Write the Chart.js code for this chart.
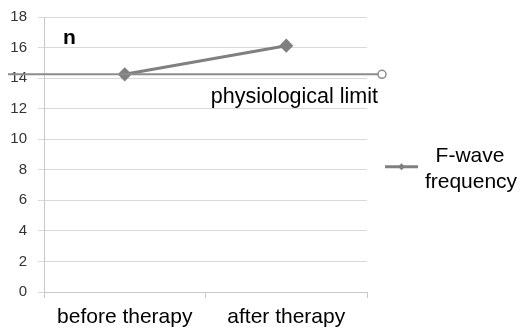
<!DOCTYPE html>
<html>
<head>
<meta charset="utf-8">
<script src="https://cdn.jsdelivr.net/npm/chart.js@4"></script>
<style>
  html, body { margin: 0; padding: 0; background: #fff; }
  #wrap { width: 521px; height: 331px; position: relative; }
</style>
</head>
<body>
<div id="wrap"><canvas id="chart"></canvas></div>
<script>
const categorias = ['before therapy', 'after therapy'];
const fWave = [14.25, 16.12];
const limiteFisiologico = 14.25;
const yTicks = [0, 2, 4, 6, 8, 10, 12, 14, 16, 18];

const gris = '#808080';
const fuente = "'Liberation Sans', Arial, sans-serif";

// Linea del limite fisiologico + texto "n" + leyenda a la derecha
const extras = {
  id: 'extras',
  afterDatasetsDraw(chart) {
    const { ctx, chartArea, scales } = chart;
    const y = scales.y.getPixelForValue(limiteFisiologico);
    ctx.save();
    ctx.strokeStyle = '#8c8c8c';
    ctx.lineWidth = 2;
    ctx.beginPath();
    ctx.moveTo(chartArea.left - 36, y);
    ctx.lineTo(chartArea.right + 11, y);
    ctx.stroke();
    ctx.fillStyle = '#fff';
    ctx.lineWidth = 1.5;
    ctx.beginPath();
    ctx.arc(chartArea.right + 15, y, 4, 0, Math.PI * 2);
    ctx.fill();
    ctx.stroke();

    ctx.fillStyle = '#000';
    ctx.font = '21.5px ' + fuente;
    ctx.textAlign = 'right';
    ctx.textBaseline = 'middle';
    ctx.fillText('physiological limit', chartArea.right + 11, y + 23);

    ctx.font = 'bold 21px ' + fuente;
    ctx.textAlign = 'left';
    ctx.fillText('n', chartArea.left + 19, scales.y.getPixelForValue(16.6));

    // leyenda
    const ly = scales.y.getPixelForValue(8.2);
    const lx = chartArea.right + 18;
    ctx.strokeStyle = gris;
    ctx.lineWidth = 3;
    ctx.beginPath();
    ctx.moveTo(lx, ly);
    ctx.lineTo(lx + 33, ly);
    ctx.stroke();
    ctx.fillStyle = gris;
    ctx.beginPath();
    ctx.moveTo(lx + 16.5, ly - 3.5);
    ctx.lineTo(lx + 20, ly);
    ctx.lineTo(lx + 16.5, ly + 3.5);
    ctx.lineTo(lx + 13, ly);
    ctx.closePath();
    ctx.fill();
    ctx.fillStyle = '#000';
    ctx.font = '21px ' + fuente;
    ctx.textAlign = 'center';
    ctx.fillText('F-wave', 470, ly - 11);
    ctx.fillText('frequency', 471, ly + 15);
    ctx.restore();
  }
};

new Chart(document.getElementById('chart'), {
  type: 'line',
  data: {
    labels: categorias,
    datasets: [{
      label: 'F-wave frequency',
      data: fWave,
      borderColor: gris,
      backgroundColor: gris,
      borderWidth: 3,
      pointStyle: 'rectRot',
      pointRadius: 5,
      pointHoverRadius: 5
    }]
  },
  options: {
    responsive: true,
    maintainAspectRatio: false,
    animation: false,
    layout: { padding: { top: 17, right: 154, left: 0, bottom: 0 } },
    plugins: {
      legend: { display: false },
      tooltip: { enabled: false }
    },
    scales: {
      x: {
        offset: true,
        grid: { drawOnChartArea: false, color: '#c8c8c8', tickLength: 6, offset: true },
        border: { color: '#c8c8c8' },
        ticks: { color: '#000', font: { family: fuente, size: 21 }, padding: 7 },
        afterFit: s => { s.height = 39; }
      },
      y: {
        min: 0,
        max: 18,
        afterBuildTicks: s => { s.ticks = yTicks.map(v => ({ value: v })); },
        grid: { color: '#d9d9d9', tickLength: 6 },
        border: { color: '#c8c8c8' },
        ticks: { color: '#333', font: { family: fuente, size: 15, lineHeight: 0.6 }, padding: 11 },
        afterFit: s => { s.width = 44; }
      }
    }
  },
  plugins: [extras]
});
</script>
</body>
</html>
